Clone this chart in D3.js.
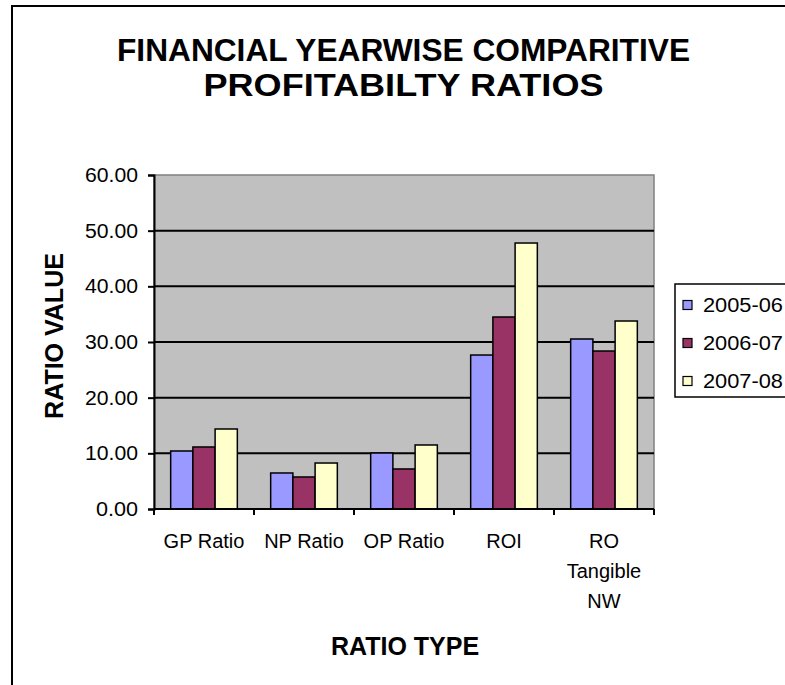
<!DOCTYPE html>
<html>
<head>
<meta charset="utf-8">
<script src="https://cdn.jsdelivr.net/npm/d3@7"></script>
<style>
  html, body { margin: 0; padding: 0; background: #ffffff; }
  svg { display: block; font-family: "Liberation Sans", Arial, sans-serif; }
</style>
</head>
<body>
<svg id="chart" width="785" height="685"></svg>
<script>
// Profitability ratios per financial year
const categories = ["GP Ratio", "NP Ratio", "OP Ratio", "ROI", "RO Tangible NW"];
const years = ["2005-06", "2006-07", "2007-08"];
const fy2005_06 = [10.42, 6.47, 10.06, 27.66, 30.54];
const fy2006_07 = [11.14, 5.75, 7.19, 34.49, 28.38];
const fy2007_08 = [14.37, 8.26, 11.50, 47.78, 33.77];
const yTicks = [0, 10, 20, 30, 40, 50, 60];
const yearColors = ["#9999FF", "#993366", "#FFFFCC"];

const seriesValues = [fy2005_06, fy2006_07, fy2007_08];
const rows = categories.map((c, i) => ({
  category: c,
  values: years.map((y, j) => ({ year: y, value: seriesValues[j][i] }))
}));

const svg = d3.select("#chart");
const plot = { left: 154, right: 654, top: 175, bottom: 509 };

// Outer chart frame (extends past the window on the right and bottom)
svg.append("rect")
  .attr("x", 12).attr("y", 6)
  .attr("width", 800).attr("height", 700)
  .attr("fill", "#ffffff")
  .attr("stroke", "#000000").attr("stroke-width", 2);

const x0 = d3.scaleBand().domain(categories).range([plot.left, plot.right]);
const x1 = d3.scaleBand().domain(years)
  .range([x0.bandwidth() / 6, x0.bandwidth() * 5 / 6]);
const y = d3.scaleLinear().domain([0, 60]).range([plot.bottom, plot.top]);
const color = d3.scaleOrdinal().domain(years).range(yearColors);

// Plot background
svg.append("rect")
  .attr("x", plot.left).attr("y", plot.top)
  .attr("width", plot.right - plot.left).attr("height", plot.bottom - plot.top)
  .attr("fill", "#C0C0C0")
  .attr("stroke", "#808080").attr("stroke-width", 1.5);

// Horizontal gridlines
svg.append("g")
  .selectAll("line")
  .data(yTicks.filter(t => t > 0 && t < 60))
  .join("line")
  .attr("x1", plot.left).attr("x2", plot.right)
  .attr("y1", d => y(d)).attr("y2", d => y(d))
  .attr("stroke", "#000000").attr("stroke-width", 2);

// Bars
svg.append("g")
  .selectAll("g")
  .data(rows)
  .join("g")
  .attr("transform", d => `translate(${x0(d.category)},0)`)
  .selectAll("rect")
  .data(d => d.values)
  .join("rect")
  .attr("x", d => x1(d.year))
  .attr("width", x1.bandwidth())
  .attr("y", d => y(d.value))
  .attr("height", d => y(0) - y(d.value))
  .attr("fill", d => color(d.year))
  .attr("stroke", "#000000").attr("stroke-width", 1.5);

// Y axis
const yAxis = svg.append("g")
  .attr("transform", `translate(${plot.left},0)`)
  .call(d3.axisLeft(y).tickValues(yTicks).tickFormat(d3.format(".2f"))
    .tickSize(6).tickPadding(10));
yAxis.select(".domain").attr("stroke", "#000000").attr("stroke-width", 2);
yAxis.selectAll(".tick line").attr("stroke", "#000000").attr("stroke-width", 2);
yAxis.selectAll(".tick text")
  .attr("font-size", 20).attr("fill", "#000000")
  .attr("font-family", "Liberation Sans, Arial, sans-serif")
  .attr("textLength", d => (d >= 10 ? 53 : 42))
  .attr("lengthAdjust", "spacingAndGlyphs");

// X axis with tick marks on category boundaries
const xAxis = svg.append("g")
  .attr("transform", `translate(0,${plot.bottom})`);
xAxis.append("line")
  .attr("x1", plot.left).attr("x2", plot.right)
  .attr("stroke", "#000000").attr("stroke-width", 2);
const boundaries = categories.map(c => x0(c)).concat([x0(categories[categories.length - 1]) + x0.bandwidth()]);
xAxis.selectAll(".bnd")
  .data(boundaries)
  .join("line")
  .attr("class", "bnd")
  .attr("x1", d => d).attr("x2", d => d)
  .attr("y1", 0).attr("y2", 6)
  .attr("stroke", "#000000").attr("stroke-width", 2);

// Category labels, wrapped to the category width
const labelSize = 20;
const lineStep = 30;
const labels = xAxis.selectAll(".cat")
  .data(categories)
  .join("text")
  .attr("class", "cat")
  .attr("text-anchor", "middle")
  .attr("font-size", labelSize)
  .attr("fill", "#000000")
  .attr("x", d => x0(d) + x0.bandwidth() / 2)
  .attr("y", 39);

labels.each(function (d) {
  const el = d3.select(this);
  const words = d.split(" ");
  const maxW = x0.bandwidth() - 4;
  let lines = [];
  let cur = [];
  const probe = el.append("tspan");
  words.forEach(w => {
    const trial = cur.concat([w]).join(" ");
    probe.text(trial);
    if (probe.node().getComputedTextLength() > maxW && cur.length) {
      lines.push(cur.join(" "));
      cur = [w];
    } else {
      cur.push(w);
    }
  });
  lines.push(cur.join(" "));
  probe.remove();
  lines.forEach((ln, i) => {
    el.append("tspan")
      .attr("x", x0(d) + x0.bandwidth() / 2)
      .attr("dy", i === 0 ? 0 : lineStep)
      .text(ln);
  });
});

// Titles
svg.append("text")
  .attr("x", 403.5).attr("y", 61)
  .attr("text-anchor", "middle")
  .attr("font-size", 31).attr("font-weight", "bold")
  .attr("textLength", 573).attr("lengthAdjust", "spacingAndGlyphs")
  .text("FINANCIAL YEARWISE COMPARITIVE");
svg.append("text")
  .attr("x", 403.5).attr("y", 96)
  .attr("text-anchor", "middle")
  .attr("font-size", 31).attr("font-weight", "bold")
  .attr("textLength", 400).attr("lengthAdjust", "spacingAndGlyphs")
  .text("PROFITABILTY RATIOS");

svg.append("text")
  .attr("x", 405).attr("y", 655)
  .attr("text-anchor", "middle")
  .attr("font-size", 25).attr("font-weight", "bold")
  .text("RATIO TYPE");

svg.append("text")
  .attr("transform", "translate(63,336) rotate(-90)")
  .attr("text-anchor", "middle")
  .attr("font-size", 25).attr("font-weight", "bold")
  .text("RATIO VALUE");

// Legend
const legend = svg.append("g").attr("transform", "translate(675,284)");
legend.append("rect")
  .attr("x", 0).attr("y", 0)
  .attr("width", 140).attr("height", 113)
  .attr("fill", "#ffffff")
  .attr("stroke", "#000000").attr("stroke-width", 1.5);
const items = legend.selectAll(".item")
  .data(years)
  .join("g")
  .attr("class", "item")
  .attr("transform", (d, i) => `translate(0,${21 + i * 38})`);
items.append("rect")
  .attr("x", 8).attr("y", -4.5)
  .attr("width", 9).attr("height", 9)
  .attr("fill", d => color(d))
  .attr("stroke", "#000000").attr("stroke-width", 1.2);
items.append("text")
  .attr("x", 28).attr("y", 7)
  .attr("font-size", 20)
  .attr("fill", "#000000")
  .attr("textLength", 80).attr("lengthAdjust", "spacingAndGlyphs")
  .text(d => d);
</script>
</body>
</html>
